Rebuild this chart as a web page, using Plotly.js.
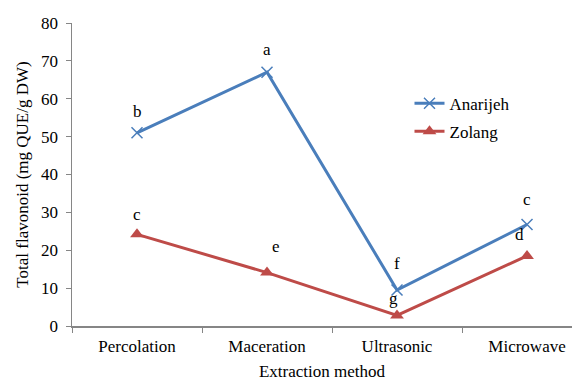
<!DOCTYPE html>
<html><head><meta charset="utf-8">
<script src="https://cdn.plot.ly/plotly-3.0.1.min.js"></script>
<style>html,body{margin:0;padding:0;background:#fff}#c{width:572px;height:381px}</style>
</head><body><div id="c"></div>
<script>
const categories = ["Percolation", "Maceration", "Ultrasonic", "Microwave"];
const anarijeh = [51, 67, 9.5, 26.8];
const zolang = [24.2, 14.1, 2.8, 18.5];
const anarijehLetters = ["b", "a", "f", "c"];
const zolangLetters = ["c", "e", "g", "d"];
const yTicks = [0, 10, 20, 30, 40, 50, 60, 70, 80];

const font = {family: "Liberation Serif", size: 17, color: "#000"};
const blue = "#4a7ebb", red = "#be4b48";

const traces = [
  {x: categories, y: anarijeh, name: "Anarijeh", legendgroup: "a", mode: "lines+markers", type: "scatter",
   line: {color: blue, width: 3}, marker: {symbol: "x-thin", size: 11, line: {color: blue, width: 1.5}, color: blue}},
  {x: categories, y: zolang, name: "Zolang", legendgroup: "z", mode: "lines+markers", type: "scatter",
   line: {color: red, width: 3}, marker: {symbol: "triangle-up", size: 12, color: red}}
];

const aShift = [[0, 21], [0, 23], [0, 27], [0, 25]];
const zShift = [[0, 20], [9, 26], [-4, 17], [-8, 21]];
const annotations = [];
categories.forEach((c, i) => {
  annotations.push({x: i, y: anarijeh[i], xref: "x", yref: "y", text: anarijehLetters[i], showarrow: false,
    xshift: aShift[i][0], yshift: aShift[i][1], font: font});
  annotations.push({x: i, y: zolang[i], xref: "x", yref: "y", text: zolangLetters[i], showarrow: false,
    xshift: zShift[i][0], yshift: zShift[i][1], font: font});
});

const layout = {
  width: 572, height: 381,
  margin: {l: 72, r: 0, t: 23, b: 55},
  paper_bgcolor: "#fff", plot_bgcolor: "#fff",
  font: font,
  showlegend: true,
  legend: {x: 0.675, y: 0.793, xanchor: "left", yanchor: "top", font: font, bgcolor: "rgba(0,0,0,0)",
    tracegroupgap: 3, itemwidth: 30},
  xaxis: {type: "category", range: [-0.5, 3.346], showgrid: false, zeroline: false,
    showline: true, linecolor: "#868686", linewidth: 1.5, ticks: "outside", tickson: "boundaries",
    ticklen: 5, tickcolor: "#868686", tickfont: font, ticklabelstandoff: 4,
    title: {text: "Extraction method", font: font, standoff: 10}},
  yaxis: {range: [0, 80], tickvals: yTicks, showgrid: false, zeroline: false,
    showline: true, linecolor: "#868686", linewidth: 1.5, ticks: "outside", ticklen: 5, tickcolor: "#868686",
    tickfont: font, ticklabelstandoff: 4, title: {text: "Total flavonoid (mg QUE/g DW)", font: font, standoff: 8}},
  annotations: annotations
};
Plotly.newPlot("c", traces, layout, {displayModeBar: false, staticPlot: true});
</script></body></html>
